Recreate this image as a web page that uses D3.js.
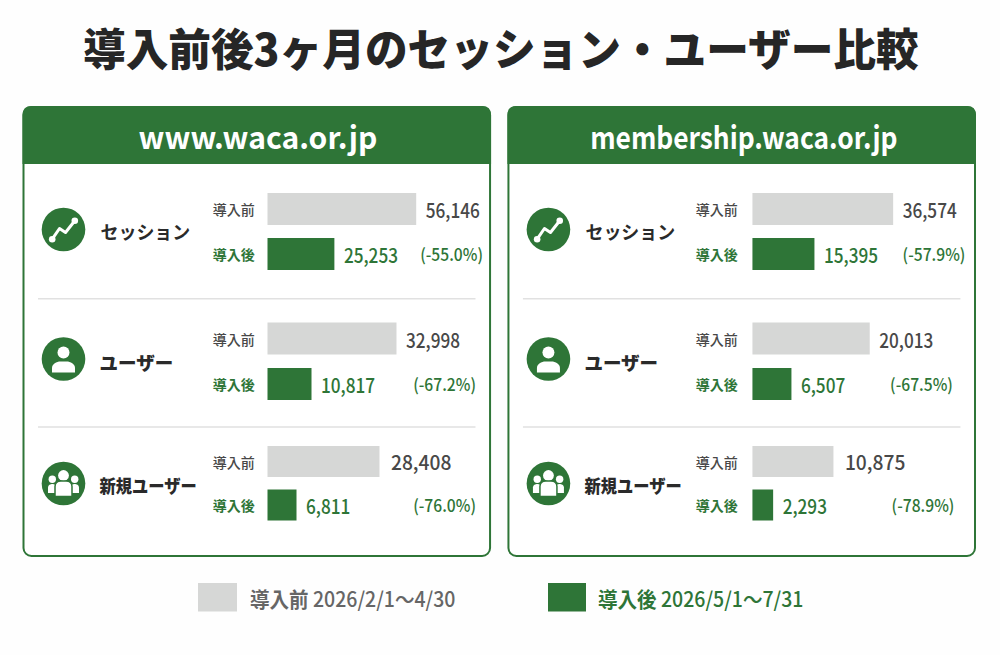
<!DOCTYPE html>
<html lang="ja"><head><meta charset="utf-8">
<script src="https://cdn.jsdelivr.net/npm/d3@7/dist/d3.min.js"></script>
<style>html,body{margin:0;padding:0;background:#fefefe}svg{display:block}text{font-family:"Noto Sans CJK JP","Noto Sans",sans-serif}</style>
</head><body><svg id="c" width="1000" height="655"></svg>
<script>
const titleText = "導入前後3ヶ月のセッション・ユーザー比較";
const sites = ["www.waca.or.jp", "membership.waca.or.jp"];
const metrics = ["セッション", "ユーザー", "新規ユーザー"];
const phaseLabels = ["導入前", "導入後"];
const beforeValues = [[56146, 32998, 28408], [36574, 20013, 10875]];
const afterValues = [[25253, 10817, 6811], [15395, 6507, 2293]];
const changes = [["(-55.0%)", "(-67.2%)", "(-76.0%)"], ["(-57.9%)", "(-67.5%)", "(-78.9%)"]];
// each row of the reference has its own bar scale
const rowDomains = [
  [[0, 56146], [-665, 38140], [-735, 37959]],
  [[-1290, 38726], [-220, 25431], [-653, 20511]]
];
const legendLabels = ["導入前", "導入後"];
const legendDates = [" 2026/2/1〜4/30", " 2026/5/1〜7/31"];

const GREEN = "#2e7537", GREY = "#d6d7d6", DARK = "#2a2a2a", MID = "#484848";
const svg = d3.select("#c");

function put(g, str, x, y, o) {
  const t = g.append("text").text(str).attr("font-size", o.size).attr("font-weight", o.weight)
    .attr("fill", o.fill).attr("dominant-baseline", "central");
  const sx = o.sx || 1;
  let tx = x;
  const a = o.anchor || "start";
  if (a !== "start") {
    const w = t.node().getComputedTextLength() * sx;
    tx = a === "middle" ? x - w / 2 : x - w;
  }
  t.attr("transform", `translate(${tx},${y}) scale(${sx},1)`);
  return t;
}

put(svg, titleText, 501, 47, {size: 44, weight: 900, fill: "#262626", anchor: "middle", sx: 0.97});

const panelX = d3.scaleBand().domain(d3.range(sites.length)).range([23.5, 975]).paddingInner(0.0379);
const barY = d3.scaleOrdinal().domain([0, 1, 2]).range([209, 338.5, 461.5]);
const afterY = d3.scaleOrdinal().domain([0, 1, 2]).range([254, 384, 505]);
const labelY = d3.scaleOrdinal().domain([0, 1, 2]).range([231, 362, 485]);
const iconY = d3.scaleOrdinal().domain([0, 1, 2]).range([229.5, 359, 483.5]);
const pctRight = [[459.5, 452.5, 452.5], [457, 444.5, 446]];
const barH = [32, 32, 31];
const siteSx = [0.97, 0.85];

function icon(g, i) {
  g.append("circle").attr("r", 21.8).attr("fill", GREEN);
  if (i === 0) {
    const pts = [[-11.3, 9.7], [-4, -1], [2, 3], [11.3, -8.7]];
    g.append("path").attr("d", d3.line()(pts)).attr("fill", "none").attr("stroke", "#fff").attr("stroke-width", 3).attr("stroke-linejoin", "round");
    g.selectAll("circle.d").data([pts[0], pts[3]]).join("circle").attr("class", "d").attr("cx", d => d[0]).attr("cy", d => d[1]).attr("r", 3.3).attr("fill", "#fff");
  } else if (i === 1) {
    g.append("circle").attr("cy", -6.5).attr("r", 6).attr("fill", "#fff");
    g.append("path").attr("fill", "#fff").attr("d", "M-11.5,13.5 V9 C-11.5,5 -7,2.5 -3,2.5 H3 C7,2.5 11.5,5 11.5,9 V13.5 Z");
  } else {
    for (const s of [-1, 1]) {
      g.append("circle").attr("cx", s * 11.2).attr("cy", -4.3).attr("r", 3.7).attr("fill", "#fff");
      g.append("path").attr("fill", "#fff").attr("d", `M${s*7},9.5 H${s*15.5} V4 C${s*15.5},1.5 ${s*13},0.5 ${s*11},0.5 C${s*9},0.5 ${s*7},1.5 ${s*7},4 Z`);
    }
    g.append("circle").attr("cy", -8).attr("r", 5.4).attr("fill", "#fff");
    g.append("path").attr("fill", "#fff").attr("stroke", GREEN).attr("stroke-width", 1.5)
      .attr("d", "M-8.5,13 V3 C-8.5,-1 -5,-2.5 -2.5,-2.5 H2.5 C5,-2.5 8.5,-1 8.5,3 V13 Z");
  }
}

sites.forEach((site, p) => {
  const x0 = panelX(p), w = panelX.bandwidth();
  const g = svg.append("g").attr("transform", `translate(${x0},0)`);
  g.append("rect").attr("width", w).attr("y", 107).attr("height", 449).attr("rx", 8).attr("fill", "#fff").attr("stroke", GREEN).attr("stroke-width", 2);
  const hy = 106, hh = 58, r = 9;
  g.append("path").attr("fill", GREEN).attr("d", `M-1,${hy+hh} V${hy+r} Q-1,${hy} ${r-1},${hy} H${w-r+1} Q${w+1},${hy} ${w+1},${hy+r} V${hy+hh} Z`);
  put(g, site, p === 0 ? 234.5 : 235.5, 136, {size: 31, weight: 700, fill: "#fff", anchor: "middle", sx: siteSx[p]});

  [298.7, 427].forEach(y => g.append("line").attr("x1", 14.5).attr("x2", 452).attr("y1", y).attr("y2", y).attr("stroke", "#e1e1e1").attr("stroke-width", 1.5));

  metrics.forEach((m, i) => {
    const xb = d3.scaleLinear().domain(rowDomains[p][i]).range([0, 148.7]);
    const bx = 244;
    const ic = g.append("g").attr("transform", `translate(${40},${iconY(i)})`);
    icon(ic, i);
    put(g, m, i === 0 ? 77 : 76, labelY(i), {size: 18.5, weight: i === 0 ? 700 : 900, fill: DARK, sx: [0.97, 1, 0.88][i]});

    const lx = p === 0 ? 189.2 : 187.2;
    put(g, phaseLabels[0], lx, barY(i), {size: 14, weight: 500, fill: MID});
    put(g, phaseLabels[1], lx, afterY(i), {size: 14, weight: 700, fill: GREEN});

    const bh = barH[i];
    const bw = xb(beforeValues[p][i]), aw = xb(afterValues[p][i]);
    g.append("rect").attr("x", bx).attr("y", barY(i) - bh / 2).attr("width", bw).attr("height", bh).attr("fill", GREY);
    g.append("rect").attr("x", bx).attr("y", afterY(i) - bh / 2).attr("width", aw).attr("height", bh).attr("fill", GREEN);
    const f = d3.format(",");
    put(g, f(beforeValues[p][i]), bx + bw + (i === 2 ? 11.5 : 9.5), barY(i), {size: 20, weight: 500, fill: MID, sx: i === 2 ? 0.96 : 0.86});
    put(g, f(afterValues[p][i]), bx + aw + 9.5, afterY(i), {size: 20, weight: 500, fill: GREEN, sx: 0.86});
    put(g, changes[p][i], pctRight[p][i], afterY(i), {size: 17, weight: 500, fill: GREEN, anchor: "end", sx: 0.92});
  });
});

const legend = [[198, 39, GREY, "#666666", 250], [548, 38, GREEN, GREEN, 598]];
legend.forEach((l, i) => {
  svg.append("rect").attr("x", l[0]).attr("y", 583).attr("width", l[1]).attr("height", 28.5).attr("fill", l[2]);
  const t = put(svg, legendLabels[i], l[4], 598, {size: 21, weight: 700, fill: l[3], sx: 0.93});
  t.append("tspan").attr("font-weight", 500).attr("xml:space", "preserve").style("white-space", "pre").text(legendDates[i]);
});
</script></body></html>
